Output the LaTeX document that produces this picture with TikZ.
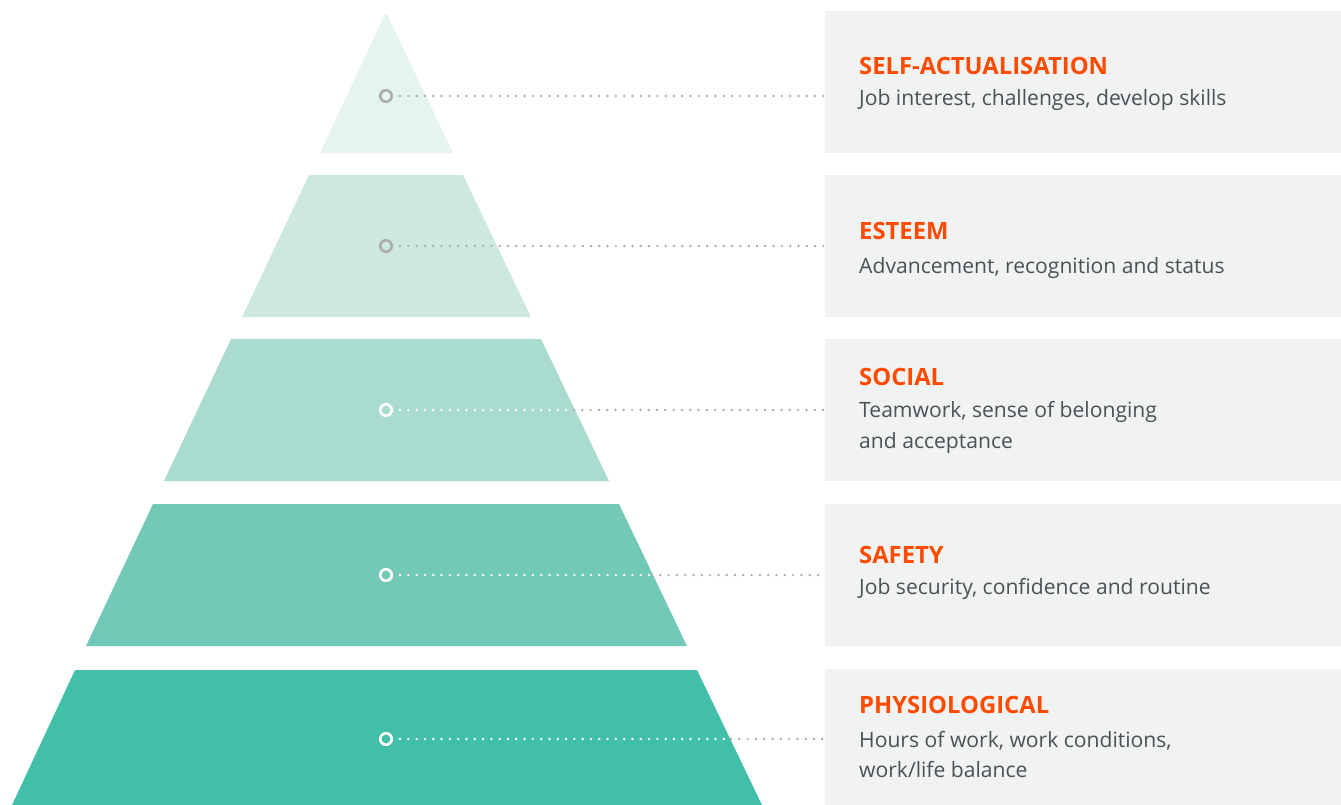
\documentclass[tikz,border=0pt]{standalone}
\usepackage{fontspec}
\setmainfont{Open Sans}
\definecolor{lay1}{HTML}{E6F4F1}
\definecolor{lay2}{HTML}{CCE8E1}
\definecolor{lay3}{HTML}{A9DBCF}
\definecolor{lay4}{HTML}{73C9B7}
\definecolor{lay5}{HTML}{42BFA8}
\definecolor{boxgray}{HTML}{F1F2F2}
\definecolor{titleorange}{HTML}{FF4B00}
\definecolor{bodygray}{HTML}{4B5156}
\definecolor{dotgray}{HTML}{ADADAD}
\tikzset{
  infobox/.style={fill=boxgray,draw=none},
  title/.style={anchor=base west,inner sep=0pt,text=titleorange,font=\fontsize{23.8}{26}\selectfont\bfseries},
  body/.style={anchor=base west,inner sep=0pt,text=bodygray,font=\fontsize{21.1}{32}\selectfont},
  marker/.style={circle,minimum size=11.5pt,inner sep=0pt,line width=2.6pt},
  dots/.style={line width=2.7pt,line cap=round,dash pattern=on 0pt off 8.3pt},
}
\begin{document}
\begin{tikzpicture}[x=1pt,y=-1pt]
\useasboundingbox (0,0) rectangle (1341,805);
% pyramid layers
\fill[lay1] (386,12) -- (453,153) -- (320,153) -- cycle;
\fill[lay2] (309,175) -- (463,175) -- (531,317) -- (242,317) -- cycle;
\fill[lay3] (231,339) -- (541,339) -- (609,481) -- (164,481) -- cycle;
\fill[lay4] (153,504) -- (619,504) -- (687,646) -- (86,646) -- cycle;
\fill[lay5] (75,670) -- (697,670) -- (762,805) -- (12,805) -- cycle;
% boxes
\fill[infobox] (825,11) rectangle (1341,153);
\fill[infobox] (825,175) rectangle (1341,317);
\fill[infobox] (825,339) rectangle (1341,481);
\fill[infobox] (825,504) rectangle (1341,646);
\fill[infobox] (825,669) rectangle (1341,805);
% markers
\node[marker,draw=dotgray] (m1) at (386,96) {};
\node[marker,draw=dotgray] (m2) at (386,246) {};
\node[marker,draw=white] (m3) at (386,410) {};
\node[marker,draw=white] (m4) at (386,575) {};
\node[marker,draw=white] (m5) at (386,739) {};
\coordinate (e1) at (825,96);
\coordinate (e2) at (825,246);
\coordinate (e3) at (825,410);
\coordinate (e4) at (825,575);
\coordinate (e5) at (825,739);
\coordinate (c3) at (574,410);
\coordinate (c4) at (652,575);
\coordinate (c5) at (731,739);
\draw[dots,dotgray] ([xshift=7pt]m1.east) -- (e1);
\draw[dots,dotgray] ([xshift=7pt]m2.east) -- (e2);
\draw[dots,white] ([xshift=7pt]m3.east) -- (c3);
\draw[dots,dotgray] (c3) -- (e3);
\draw[dots,white] ([xshift=7pt]m4.east) -- (c4);
\draw[dots,dotgray] (c4) -- (e4);
\draw[dots,white] ([xshift=7pt]m5.east) -- (c5);
\draw[dots,dotgray] (c5) -- (e5);
% texts
\node[title] (t1) at (859,75) {SELF-ACTUALISATION};
\node[body] (b1) at (859,106) {Job interest, challenges, develop skills};
\node[title] (t2) at (859,240) {ESTEEM};
\node[body] (b2) at (859,273) {Advancement, recognition and status};
\node[title] (t3) at (859,385) {SOCIAL};
\node[body] (b3) at (859,417) {Teamwork, sense of belonging};
\node[body] (b3b) at (859,448) {and acceptance};
\node[title] (t4) at (859,563) {SAFETY};
\node[body] (b4) at (859,594) {Job security, confidence and routine};
\node[title] (t5) at (859,713) {PHYSIOLOGICAL};
\node[body] (b5) at (859,747) {Hours of work, work conditions,};
\node[body] (b5b) at (859,777) {work/life balance};
\end{tikzpicture}
\end{document}
